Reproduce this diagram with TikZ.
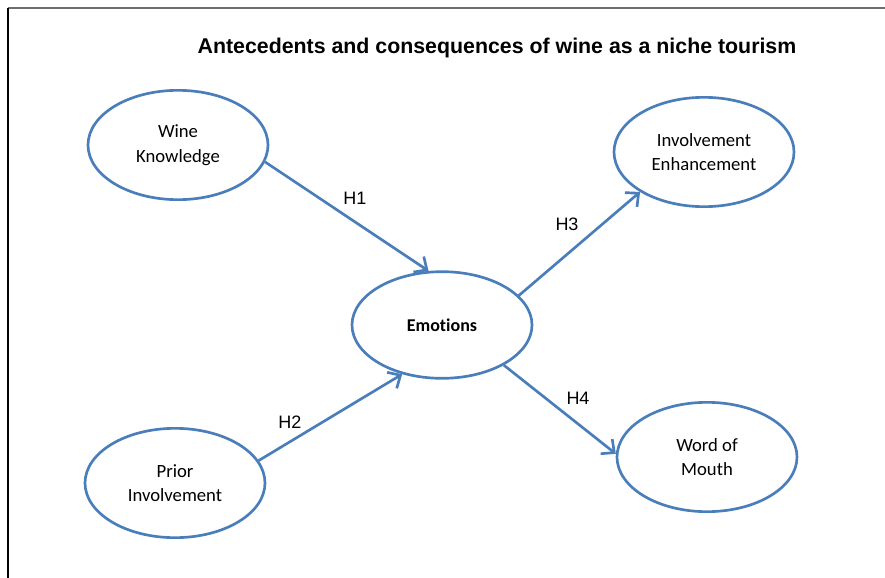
\documentclass[tikz,border=0pt]{standalone}
\usepackage{fontspec}
\setmainfont{Carlito}[Ligatures=NoCommon]
\newfontfamily\arialfont{Liberation Sans}
\usetikzlibrary{arrows.meta,shapes.geometric}
\definecolor{office}{HTML}{4A7EBB}
\definecolor{rule}{HTML}{6E6E6E}
\tikzset{construct/.style={draw=office,line width=2pt,ellipse,fill=white,inner sep=0pt,minimum width=135pt,minimum height=82pt,align=center,font=\fontsize{14}{18.5}\selectfont},
hyp/.style={font=\arialfont\fontsize{13.5}{15}\selectfont},
link/.style={draw=office,line width=2pt,-{Straight Barb[length=7.5pt,width=14pt,line width=2pt]}}}

\begin{document}
\begin{tikzpicture}[x=0.75pt,y=-0.75pt]
\useasboundingbox (0,0) rectangle (885,578);
\draw[rule,line width=1.3pt] (8,8)--(885,8);
\draw[black,line width=0.8pt] (8,8)--(8,578);
\node[font=\arialfont\bfseries\fontsize{16}{18}\selectfont] (title) at (497,48) {Antecedents and consequences of wine as a niche tourism};
\node[construct] (wk) at (178,145) {Wine\\Knowledge};
\node[construct] (pi) at (175,483) {Prior\\Involvement};
\node[construct,minimum height=80pt,font=\bfseries\fontsize{13.5}{15}\selectfont] (em) at (442,325) {Emotions};
\node[construct] (ie) at (704,152) {Involvement\\Enhancement};
\node[construct] (wom) at (707,457) {Word of\\Mouth};
\draw[link] (wk.-11)--(em.104);
\draw[link] (pi.15)--(em.231);
\draw[link] (em.21)--(ie.212);
\draw[link] (em.-33)--(wom.178);
\node[hyp] (h1) at (355,198) {H1};
\node[hyp] (h2) at (290,422) {H2};
\node[hyp] (h3) at (567,224) {H3};
\node[hyp] (h4) at (578,398) {H4};
\end{tikzpicture}
\end{document}
